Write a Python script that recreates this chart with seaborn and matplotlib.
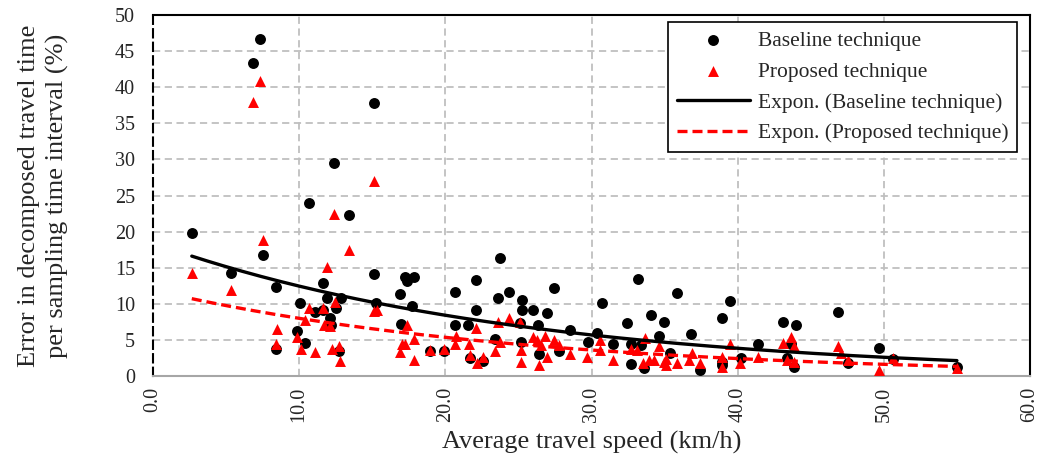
"""Travel-time decomposition error vs. average travel speed."""

import numpy as np
import pandas as pd
import matplotlib
matplotlib.use("Agg")
import matplotlib.pyplot as plt
import seaborn as sns

# Baseline technique (black circles)
baseline_speed = [2.65, 5.34, 6.86, 7.33, 7.51, 8.42, 8.42, 9.84, 10.07, 10.41, 10.7, 11.05,
                  11.66, 11.66, 11.9, 12.08, 12.17, 12.4, 12.5, 12.7, 12.85, 13.38, 15.09,
                  15.09, 15.27, 16.92, 16.96, 17.26, 17.4, 17.83, 17.7, 18.97, 19.93, 20.68,
                  20.68, 21.55, 21.7, 22.12, 22.12, 22.6, 23.38, 23.58, 23.72, 24.34, 25.1,
                  25.2, 25.25, 25.25, 25.98, 26.32, 26.4, 26.97, 27.4, 27.8, 28.56, 29.75,
                  30.4, 30.73, 31.5, 32.4, 32.67, 32.7, 33.2, 33.36, 33.6, 34.1, 34.6, 34.95,
                  35.36, 35.87, 36.83, 37.4, 38.95, 38.95, 38.95, 39.47, 40.2, 41.4, 43.1,
                  43.4, 43.67, 43.86, 44.0, 46.83, 47.55, 49.7, 50.6, 55.0]
baseline_error = [19.85, 14.2, 43.4, 46.7, 16.7, 12.3, 3.7, 6.3, 10.15, 4.6, 24.0, 8.9,
                  12.9, 9.2, 10.85, 8.0, 7.0, 29.5, 9.4, 3.5, 10.75, 22.3, 37.8,
                  14.1, 10.05, 11.3, 7.2, 13.75, 13.1, 13.75, 9.7, 3.4, 3.4, 11.6,
                  7.0, 7.0, 2.45, 13.3, 9.2, 2.1, 5.1, 10.85, 16.4, 11.7, 7.3,
                  4.75, 10.5, 9.2, 9.1, 7.05, 3.1, 8.7, 12.2, 3.4, 6.4, 4.65,
                  6.0, 10.05, 4.4, 7.4, 4.5, 1.6, 13.4, 4.3, 1.05, 8.45, 5.6, 7.45,
                  3.2, 11.55, 5.8, 0.9, 8.1, 2.0, 1.5, 10.4, 2.5, 4.4, 7.5,
                  2.45, 4.5, 1.3, 7.05, 8.8, 1.75, 3.9, 2.4, 1.3]

# Proposed technique (red triangles)
proposed_speed = [2.65, 5.34, 6.87, 7.33, 7.51, 8.47, 8.42, 9.84, 10.1, 10.4, 10.7, 11.05,
                  11.66, 11.7, 11.9, 12.1, 12.24, 12.4, 12.47, 12.7, 12.8, 13.4, 15.09,
                  15.09, 15.3, 16.92, 17.03, 17.26, 17.37, 17.83, 17.83, 18.97, 19.93, 20.68,
                  20.73, 21.6, 21.7, 22.12, 22.17, 22.6, 23.38, 23.58, 23.77, 24.34, 25.1,
                  25.2, 25.2, 26.0, 26.27, 26.4, 26.55, 26.85, 26.97, 27.4, 27.8, 28.56,
                  29.7, 30.57, 30.57, 31.5, 32.67, 33.1, 33.5, 33.65, 33.9, 34.27, 34.6,
                  34.95, 35.07, 35.1, 35.87, 36.7, 36.9, 37.4, 38.95, 38.95, 39.47, 40.15,
                  41.4, 43.1, 43.4, 43.67, 43.86, 43.86, 46.83, 47.05, 47.55, 49.7, 50.6, 55.0]
proposed_error = [14.2, 11.9, 37.9, 40.9, 18.8, 6.5, 4.5, 5.45, 3.8, 7.75, 9.4, 3.3,
                  9.4, 7.0, 15.1, 6.9, 3.8, 22.4, 10.2, 4.2, 2.1, 17.4, 27.0,
                  9.0, 9.2, 3.3, 4.5, 4.5, 7.05, 5.1, 2.2, 3.6, 3.7, 4.5,
                  5.6, 4.5, 2.9, 6.6, 1.85, 2.6, 3.4, 7.5, 4.75, 8.1, 7.5,
                  3.6, 2.0, 5.45, 5.0, 1.5, 4.3, 5.55, 2.65, 5.0, 4.3, 3.1,
                  2.65, 5.0, 3.6, 2.2, 3.8, 3.6, 1.75, 5.2, 2.2, 2.2, 4.2,
                  2.0, 2.35, 1.5, 1.85, 2.2, 3.2, 1.75, 2.7, 1.3, 4.5, 1.75,
                  2.6, 4.6, 2.2, 5.45, 4.15, 2.0, 4.15, 3.2, 2.2, 0.9, 2.55, 1.05]

x_ticks = [0, 10, 20, 30, 40, 50, 60]
y_ticks = [0, 5, 10, 15, 20, 25, 30, 35, 40, 45, 50]

base_df = pd.DataFrame({"speed": baseline_speed, "error": baseline_error})
prop_df = pd.DataFrame({"speed": proposed_speed, "error": proposed_error})


def expon_trend(df):
    """Excel-style exponential trendline: least squares on ln(y)."""
    b, ln_a = np.polyfit(df["speed"], np.log(df["error"]), 1)
    xs = np.linspace(df["speed"].min(), df["speed"].max(), 200)
    return pd.DataFrame({"speed": xs, "error": np.exp(ln_a) * np.exp(b * xs)})


sns.set_style("white")
plt.rcParams["font.family"] = ["Liberation Serif", "DejaVu Serif"]

fig, ax = plt.subplots(figsize=(10.44, 4.62), dpi=100)
fig.subplots_adjust(left=0.1466, right=0.9866, top=0.9675, bottom=0.1861)

grid_kw = dict(color="#bfbfbf", linestyle=(0, (4, 2.5)), linewidth=1.3, zorder=0)
for xv in x_ticks[1:-1]:
    ax.axvline(xv, **grid_kw)
for yv in y_ticks[1:]:
    ax.axhline(yv, **grid_kw)

sns.scatterplot(data=base_df, x="speed", y="error", ax=ax, marker="o", s=62,
                color="black", edgecolor="black", linewidth=0, label="Baseline technique", zorder=3)
sns.scatterplot(data=prop_df, x="speed", y="error", ax=ax, marker="^", s=62,
                color="red", edgecolor="red", linewidth=0, label="Proposed technique", zorder=3)
sns.lineplot(data=expon_trend(base_df), x="speed", y="error", ax=ax, color="black",
             linewidth=2.4, label="Expon. (Baseline technique)", zorder=4)
sns.lineplot(data=expon_trend(prop_df), x="speed", y="error", ax=ax, color="red",
             linewidth=2.4, linestyle=(0, (3, 1.5)), label="Expon. (Proposed technique)", zorder=4)

ax.set_xlim(0, 60)
ax.set_ylim(0, 50)
ax.set_xticks(x_ticks)
ax.set_xticklabels([f"{v:.1f}" for v in x_ticks], rotation=90, fontsize=14.5)
ax.set_yticks(y_ticks)
ax.set_yticklabels([str(v) for v in y_ticks], fontsize=14.5)
ax.tick_params(axis="both", direction="out", length=4, width=1, color="#a6a6a6")
ax.tick_params(axis="x", pad=4)
ax.tick_params(axis="y", pad=9)

ax.set_xlabel("Average travel speed (km/h)", fontsize=19, labelpad=6)
ax.set_ylabel("Error in decomposed travel time\nper sampling time interval (%)", fontsize=19,
              labelpad=33, linespacing=1.35)

for side in ["top", "right"]:
    ax.spines[side].set_color("black")
    ax.spines[side].set_linewidth(1.5)
ax.spines["bottom"].set_color("#a6a6a6")
ax.spines["bottom"].set_linewidth(1.5)
ax.spines["left"].set_color("black")
ax.spines["left"].set_linewidth(1.5)
ax.spines["left"].set_linestyle((0, (4, 2.5)))

leg = ax.legend(loc="upper right", bbox_to_anchor=(0.985, 0.98), fontsize=15.5, frameon=True,
                fancybox=False, edgecolor="black", framealpha=1, borderpad=0.4,
                labelspacing=0.5, handlelength=3.4, handletextpad=0.35, borderaxespad=0)
leg.get_frame().set_linewidth(1.2)

plt.savefig("out.png", dpi=100)
plt.close()
